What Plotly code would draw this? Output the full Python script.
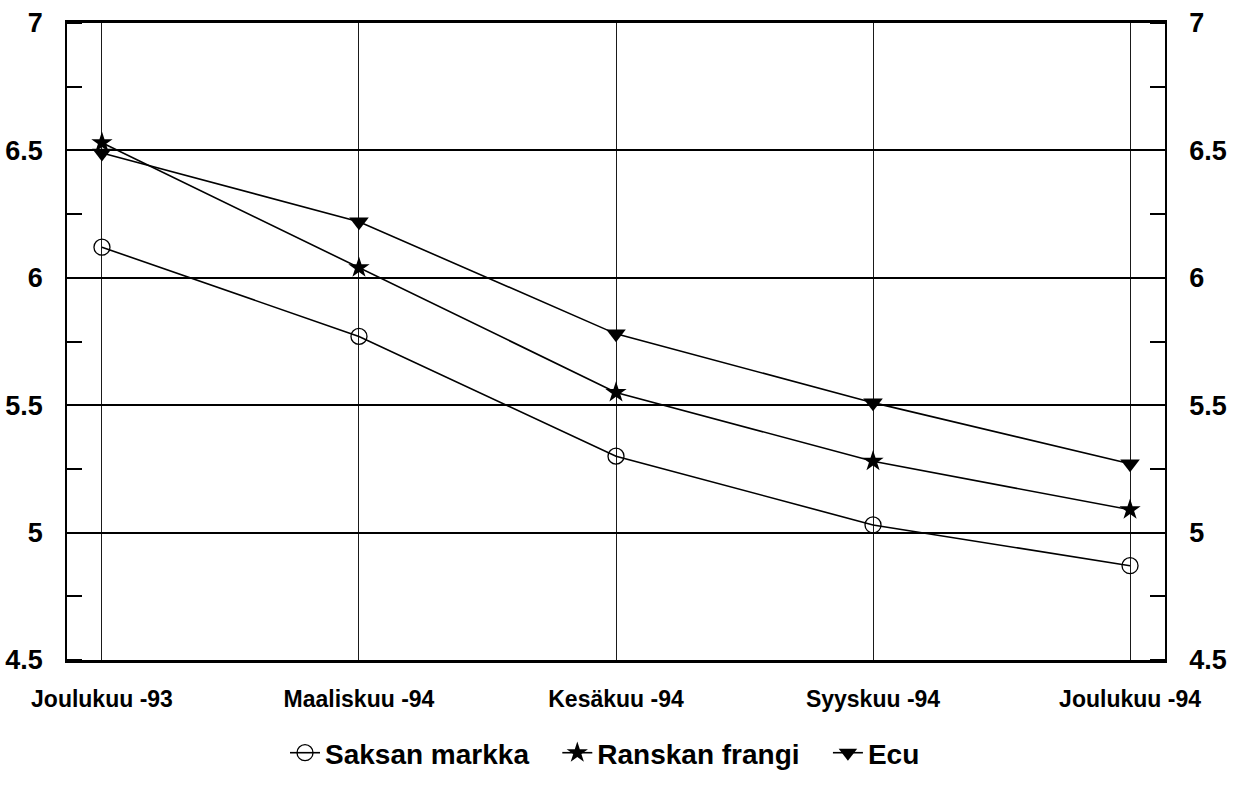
import plotly.graph_objects as go

kuukaudet = ['Joulukuu -93', 'Maaliskuu -94', 'Kesäkuu -94', 'Syyskuu -94', 'Joulukuu -94']
saksan_markka = [6.12, 5.77, 5.30, 5.03, 4.87]
ranskan_frangi = [6.53, 6.04, 5.55, 5.28, 5.09]
ecu = [6.49, 6.22, 5.78, 5.51, 5.27]

x_idx = list(range(len(kuukaudet)))
font = 'Liberation Sans, Arial, sans-serif'
gap = '&nbsp;' * 3

fig = go.Figure()
fig.add_trace(go.Scatter(x=x_idx, y=saksan_markka, mode='lines+markers', name=f'<b>Saksan markka</b>{gap}',
                         line={'color': 'black', 'width': 1.6},
                         marker={'symbol': 'circle-open', 'size': 16, 'color': 'black', 'line': {'width': 1.3}}))
fig.add_trace(go.Scatter(x=x_idx, y=ranskan_frangi, mode='lines+markers', name=f'<b>Ranskan frangi</b>{gap}',
                         line={'color': 'black', 'width': 1.6},
                         marker={'symbol': 'star', 'size': 16, 'color': 'black'}))
fig.add_trace(go.Scatter(x=x_idx, y=ecu, mode='lines+markers', name='<b>Ecu</b>',
                         line={'color': 'black', 'width': 1.6},
                         marker={'symbol': 'triangle-down', 'size': 17, 'color': 'black'}))
# näkymätön jälki oikeaa akselia varten
fig.add_trace(go.Scatter(x=x_idx, y=ecu, yaxis='y2', mode='markers', showlegend=False,
                         hoverinfo='skip', marker={'opacity': 0}))

y_ticks = [4.5, 5, 5.5, 6, 6.5, 7]
common_y = dict(range=[4.5, 7], tickvals=y_ticks, ticktext=[f'<b>{v:g}</b>' for v in y_ticks],
                tickfont={'family': font, 'size': 27, 'color': 'black'}, ticks='',
                ticklabelstandoff=17, automargin=False,
                showline=True, linecolor='black', linewidth=1.5, zeroline=False,
                minor={'dtick': 0.25, 'tick0': 4.5, 'ticks': 'inside', 'ticklen': 15,
                       'tickcolor': 'black', 'tickwidth': 1.5, 'showgrid': False})

fig.update_layout(
    width=1237, height=790,
    margin={'l': 67, 'r': 72, 't': 23, 'b': 110},
    paper_bgcolor='white', plot_bgcolor='white',
    showlegend=True,
    legend={'orientation': 'h', 'x': 0.49, 'xanchor': 'center', 'y': -0.146, 'yanchor': 'middle',
            'font': {'family': font, 'size': 28, 'color': 'black'}, 'itemwidth': 30},
    xaxis=dict(range=[-0.136, 4.136], tickvals=x_idx, ticktext=[f'<b>{k}</b>' for k in kuukaudet],
               tickfont={'family': font, 'size': 23, 'color': 'black'}, ticks='',
               ticklabelstandoff=17, automargin=False,
               showgrid=True, gridcolor='#1a1a1a', gridwidth=1.3,
               showline=True, linecolor='black', linewidth=2.5, mirror=True, zeroline=False),
    yaxis=dict(**common_y, showgrid=True, gridcolor='black', gridwidth=1.6),
    yaxis2=dict(**common_y, overlaying='y', side='right', showgrid=False),
)
# selaimen oletusmarginaali pois, jotta kuva alkaa vasemmasta yläkulmasta
fig.write_html('out.html', config={'displayModeBar': False},
               post_script="document.body.style.margin='0';")
